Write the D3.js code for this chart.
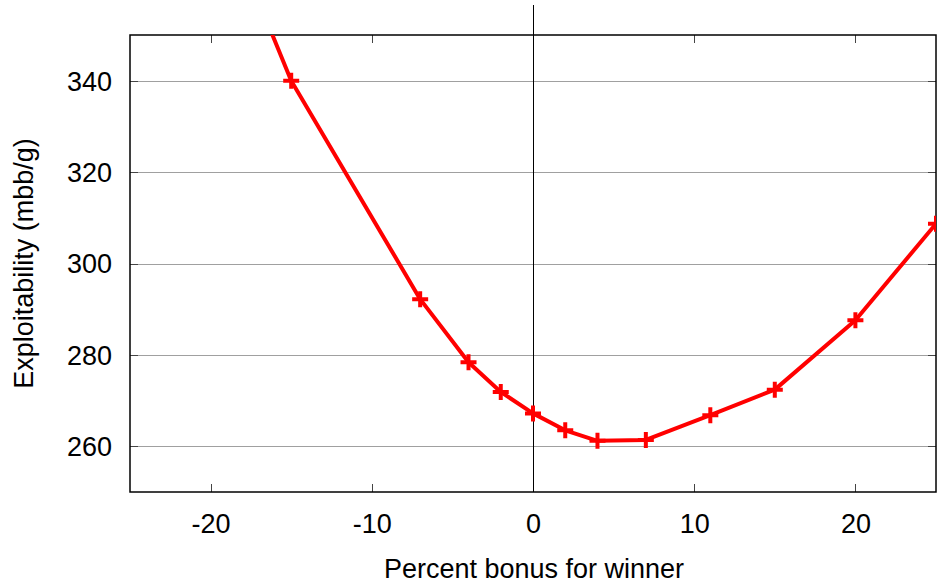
<!DOCTYPE html>
<html>
<head>
<meta charset="utf-8">
<script src="https://cdn.jsdelivr.net/npm/d3@7"></script>
<style>
  html, body { margin: 0; padding: 0; background: #fff; }
  svg { display: block; font-family: "Liberation Sans", Arial, sans-serif; }
</style>
</head>
<body>
<svg id="chart" width="937" height="584"></svg>
<script>
// Percent bonus for winner vs exploitability
const bonusValues = [-20, -15, -7, -4, -2, 0, 2, 4, 7, 11, 15, 20, 25];
const exploitValues = [383, 340, 292.2, 278.4, 271.9, 267.2, 263.5, 261.2, 261.4, 266.8, 272.4, 287.6, 308.7];
const xTickValues = [-20, -10, 0, 10, 20];
const yTickValues = [260, 280, 300, 320, 340];

const margin = { top: 35, right: 1, bottom: 92, left: 130 };
const totalWidth = 937;
const totalHeight = 584;
const width = totalWidth - margin.left - margin.right;
const height = totalHeight - margin.top - margin.bottom;

const svg = d3.select('#chart');

const xScale = d3.scaleLinear().domain([-25, 25]).range([0, width]);
const yScale = d3.scaleLinear().domain([250, 350]).range([height, 0]);

const chart = svg
  .append('g')
  .attr('transform', `translate(${margin.left},${margin.top})`);

// Clip everything data-related to the plot box
chart
  .append('clipPath')
  .attr('id', 'plot-clip')
  .append('rect')
  .attr('width', width)
  .attr('height', height);

// Horizontal gridlines
chart
  .append('g')
  .attr('class', 'grid')
  .selectAll('line')
  .data(yTickValues)
  .join('line')
  .attr('x1', 0)
  .attr('x2', width)
  .attr('y1', (d) => Math.round(yScale(d)) + 0.5)
  .attr('y2', (d) => Math.round(yScale(d)) + 0.5)
  .attr('stroke', '#a0a0a0')
  .attr('stroke-width', 1);

// Axes with inward ticks, mirrored on the opposite sides
// (plain hyphen for negatives, like the original plot)
const tickLen = 8;
const plainFormat = (d) => String(d);
const xAxis = d3.axisBottom(xScale).tickValues(xTickValues).tickFormat(plainFormat).tickSize(0).tickPadding(22);
const yAxis = d3.axisLeft(yScale).tickValues(yTickValues).tickFormat(plainFormat).tickSize(0).tickPadding(18);

const xAxisG = chart
  .append('g')
  .attr('class', 'axis x-axis')
  .attr('transform', `translate(0,${height})`)
  .call(xAxis);
const yAxisG = chart.append('g').attr('class', 'axis y-axis').call(yAxis);

[xAxisG, yAxisG].forEach((g) => {
  g.select('.domain').remove();
  g.selectAll('text')
    .attr('fill', '#000')
    .style('font-size', '27px')
    .style('font-family', '"Liberation Sans", Arial, sans-serif');
});
xAxisG.selectAll('text').attr('dy', '0.71em');
yAxisG.selectAll('text').attr('dy', '0.35em');

const tickG = chart.append('g').attr('class', 'ticks').attr('stroke', '#444').attr('stroke-width', 1);
xTickValues.forEach((v) => {
  const x = Math.round(xScale(v)) + 0.5;
  tickG.append('line').attr('x1', x).attr('x2', x).attr('y1', height).attr('y2', height - tickLen);
  tickG.append('line').attr('x1', x).attr('x2', x).attr('y1', 0).attr('y2', tickLen);
});
yTickValues.forEach((v) => {
  const y = Math.round(yScale(v)) + 0.5;
  tickG.append('line').attr('x1', 0).attr('x2', tickLen).attr('y1', y).attr('y2', y);
  tickG.append('line').attr('x1', width).attr('x2', width - tickLen).attr('y1', y).attr('y2', y);
});

// Zero line, running past the top of the frame
const zeroX = Math.round(xScale(0)) + 0.5;
chart
  .append('line')
  .attr('x1', zeroX)
  .attr('x2', zeroX)
  .attr('y1', 5 - margin.top)
  .attr('y2', height)
  .attr('stroke', '#000')
  .attr('stroke-width', 1);

// Frame
chart
  .append('rect')
  .attr('x', 0)
  .attr('y', 0)
  .attr('width', width)
  .attr('height', height)
  .attr('fill', 'none')
  .attr('stroke', '#000')
  .attr('stroke-width', 1.5);

// Series
const points = bonusValues.map((b, i) => ({ x: b, y: exploitValues[i] }));
const dataGroup = chart.append('g').attr('clip-path', 'url(#plot-clip)');

const line = d3
  .line()
  .x((d) => xScale(d.x))
  .y((d) => yScale(d.y));

dataGroup
  .append('path')
  .datum(points)
  .attr('d', line)
  .attr('fill', 'none')
  .attr('stroke', '#ff0000')
  .attr('stroke-width', 4)
  .attr('stroke-linejoin', 'round');

const markerHalf = 8;
dataGroup
  .selectAll('.marker')
  .data(points)
  .join('path')
  .attr('class', 'marker')
  .attr('transform', (d) => `translate(${xScale(d.x)},${yScale(d.y)})`)
  .attr('d', `M${-markerHalf},0H${markerHalf}M0,${-markerHalf}V${markerHalf}`)
  .attr('stroke', '#ff0000')
  .attr('stroke-width', 4)
  .attr('fill', 'none');

// Axis titles
svg
  .append('text')
  .attr('x', margin.left + width / 2 + 1)
  .attr('y', 578)
  .attr('text-anchor', 'middle')
  .style('font-size', '27px')
  .attr('fill', '#000')
  .text('Percent bonus for winner');

svg
  .append('text')
  .attr('transform', `translate(33,${margin.top + height / 2}) rotate(-90)`)
  .attr('text-anchor', 'middle')
  .style('font-size', '27px')
  .attr('fill', '#000')
  .text('Exploitability (mbb/g)');
</script>
</body>
</html>
